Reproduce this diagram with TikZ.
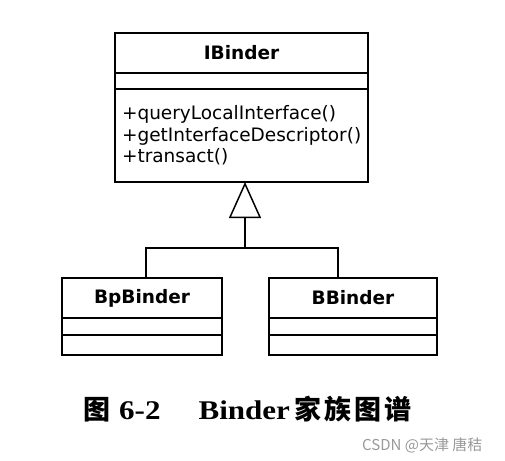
\documentclass[tikz,border=0pt]{standalone}
\usepackage{fontspec}
\setmainfont{Liberation Serif}
\newfontfamily\umlfont{DejaVu Sans}
\newfontfamily\capfont[FakeStretch=1.15]{Liberation Serif}
\newfontfamily\cjk{Noto Sans CJK SC}
\usetikzlibrary{positioning,arrows.meta}

\begin{document}
\begin{tikzpicture}[x=1pt,y=-1pt,node distance=0pt,
	part/.style={draw,line width=1.5pt,inner sep=0pt,outer sep=0pt,
		font=\umlfont\fontsize{18.5}{21.5}\selectfont},
	link/.style={line width=1.5pt}]
	\useasboundingbox (0,0) rectangle (505,460);
	% IBinder
	\node[part,minimum width=253pt,minimum height=40pt]	(ib)	at (241.5,53)	{\bfseries IBinder};
	\node[part,minimum width=253pt,minimum height=16pt]	(ib-a)	[below=of ib]	{};
	\node[part,minimum width=253pt,minimum height=93pt,inner xsep=7pt,text width=239pt,align=left]
		(ib-o)	[below=of ib-a]	{+queryLocalInterface()\\+getInterfaceDescriptor()\\+transact()};
	% BpBinder
	\node[part,minimum width=160pt,minimum height=40pt]	(bp)	at (142,298)	{\bfseries BpBinder};
	\node[part,minimum width=160pt,minimum height=17pt]	(bp-a)	[below=of bp]	{};
	\node[part,minimum width=160pt,minimum height=20pt]	(bp-o)	[below=of bp-a]	{};
	% BBinder
	\node[part,minimum width=168pt,minimum height=40pt]	(bb)	at (353,298)	{\bfseries BBinder};
	\node[part,minimum width=168pt,minimum height=17pt]	(bb-a)	[below=of bb]	{};
	\node[part,minimum width=168pt,minimum height=20pt]	(bb-o)	[below=of bb-a]	{};
	% generalization
	\coordinate (joint) at (245,248);
	\draw[link,-{Triangle[open,length=36pt,width=32pt]}] (joint) -- ([xshift=3.5pt]ib-o.south);
	\draw[link] ([xshift=4pt]bp.north) |- (joint);
	\draw[link] ([xshift=-15pt]bb.north) |- (joint);
	% caption
	\node[anchor=base west,inner sep=0pt] (cap) at (83,419)
		{{\cjk\bfseries\fontsize{27}{27}\selectfont 图}\hspace{9pt}%
		{\capfont\bfseries\fontsize{27}{27}\selectfont 6-2}\hspace{38pt}%
		{\capfont\bfseries\fontsize{27}{27}\selectfont Binder}\hspace{4pt}%
		{\cjk\bfseries\fontsize{27}{27}\selectfont 家\hspace{3pt}族\hspace{3pt}图\hspace{3pt}谱}};
	\node[anchor=base west,inner sep=0pt,text=black!40] (mark) at (362,450)
		{\cjk\fontsize{15}{15}\selectfont CSDN @天津 唐秸};
\end{tikzpicture}
\end{document}
